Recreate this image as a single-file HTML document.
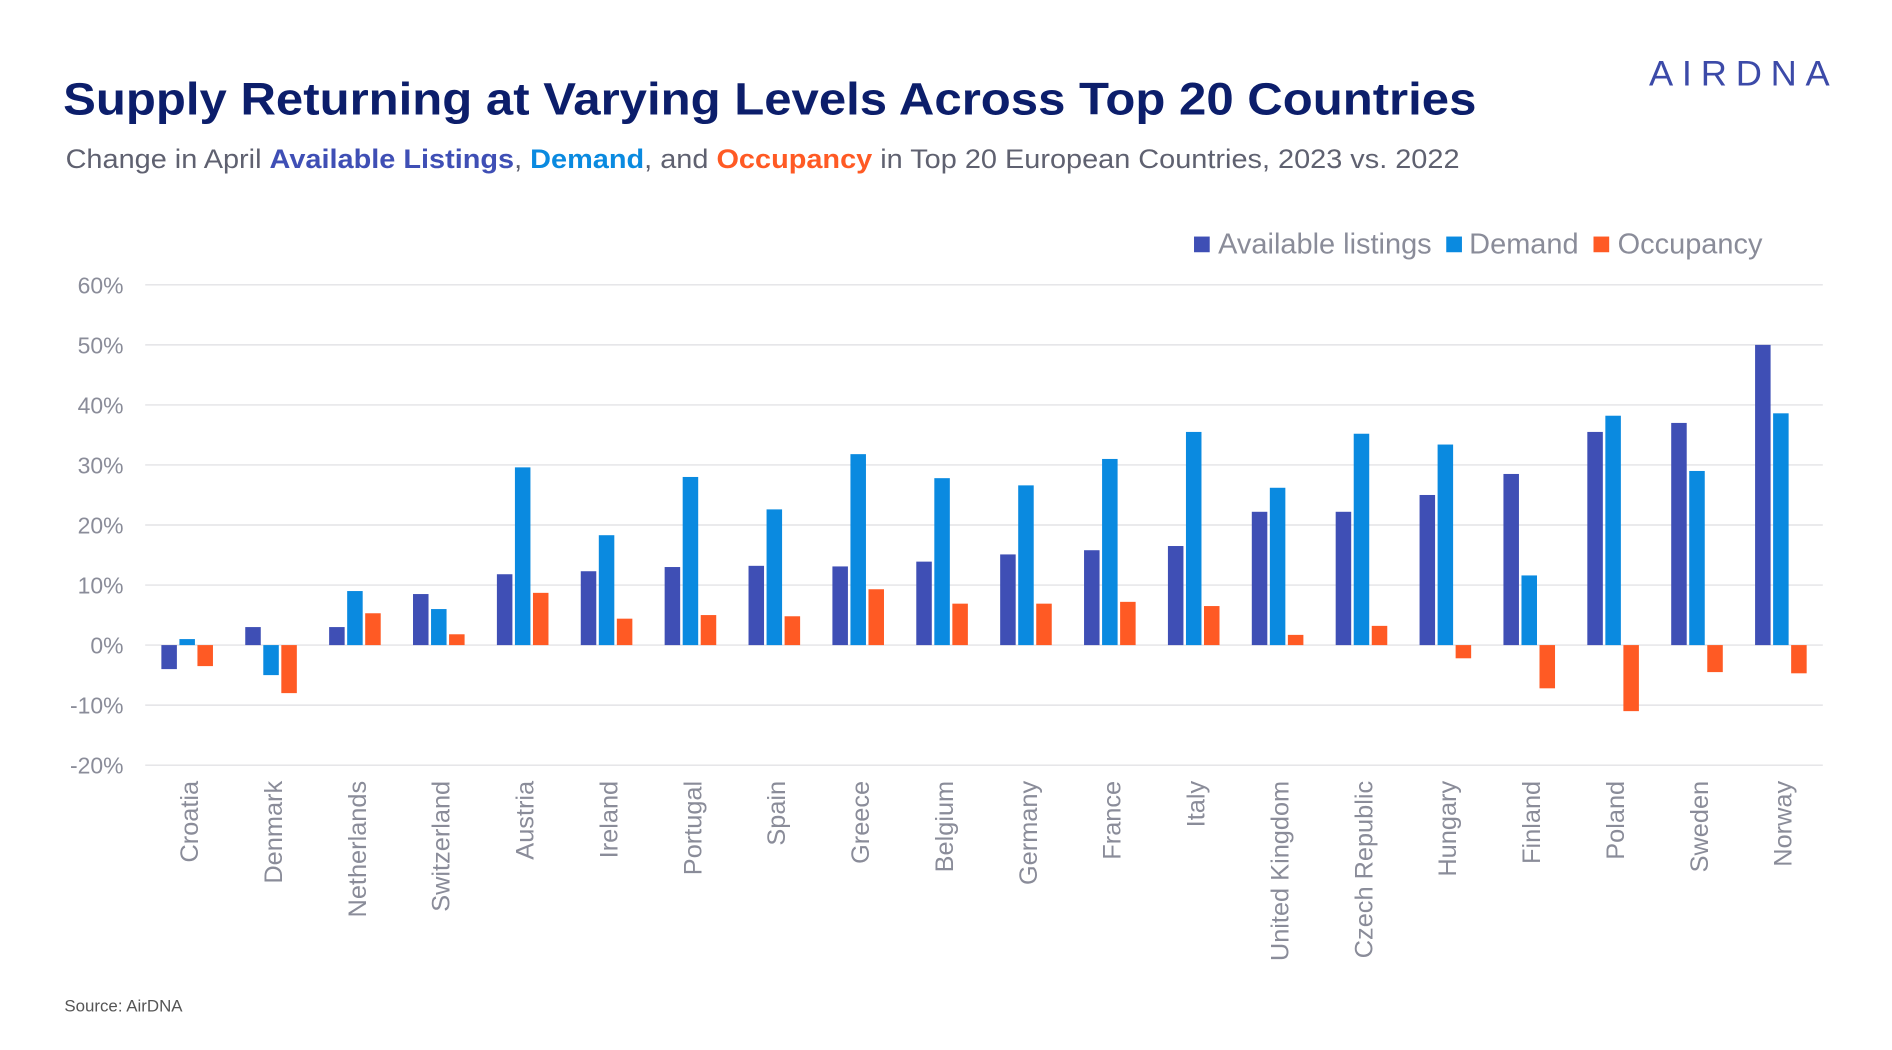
<!DOCTYPE html>
<html><head><meta charset="utf-8"><style>
html,body{margin:0;padding:0;background:#fff;}
svg{display:block;font-family:"Liberation Sans",sans-serif;}
</style></head><body>
<svg id="chart" width="1892" height="1050" viewBox="0 0 1567 870" xmlns="http://www.w3.org/2000/svg">
<text x="52" y="95" font-size="38" font-weight="bold" fill="#0c1e6b" textLength="1171" lengthAdjust="spacingAndGlyphs">Supply Returning at Varying Levels Across Top 20 Countries</text>
<text x="54" y="139" font-size="22" fill="#5f6170" textLength="1155" lengthAdjust="spacingAndGlyphs">Change in April <tspan font-weight="bold" fill="#3f4fb5">Available Listings</tspan>, <tspan font-weight="bold" fill="#0a8ae0">Demand</tspan>, and <tspan font-weight="bold" fill="#ff5a24">Occupancy</tspan> in Top 20 European Countries, 2023 vs. 2022</text>
<text x="1366" y="71" font-size="29" fill="#3c4aa8" letter-spacing="7" textLength="157" lengthAdjust="spacingAndGlyphs">AIRDNA</text>
<g>
<rect x="989" y="196" width="13" height="13" fill="#3f4fb5"/>
<text x="1009" y="210" font-size="24" fill="#8a8c99">Available listings</text>
<rect x="1198" y="196" width="13" height="13" fill="#0a8ae0"/>
<text x="1217" y="210" font-size="24" fill="#8a8c99">Demand</text>
<rect x="1320" y="196" width="13" height="13" fill="#ff5a24"/>
<text x="1340" y="210" font-size="24" fill="#8a8c99">Occupancy</text>
</g>
<g id="grid"></g><g id="bars"></g><g id="labels"></g>
<text x="53" y="838" font-size="14" fill="#555">Source: AirDNA</text>
</svg>
<script>
const categories=["Croatia","Denmark","Netherlands","Switzerland","Austria","Ireland","Portugal","Spain","Greece","Belgium","Germany","France","Italy","United Kingdom","Czech Republic","Hungary","Finland","Poland","Sweden","Norway"];
const availableListings=[-4,3,3,8.5,11.8,12.3,13,13.2,13.1,13.9,15.1,15.8,16.5,22.2,22.2,25,28.5,35.5,37,50];
const demand=[1,-5,9,6,29.6,18.3,28,22.6,31.8,27.8,26.6,31,35.5,26.2,35.2,33.4,11.6,38.2,29,38.6];
const occupancy=[-3.5,-8,5.3,1.8,8.7,4.4,5,4.8,9.3,6.9,6.9,7.2,6.5,1.7,3.2,-2.2,-7.2,-11,-4.5,-4.7];
const yTicks=[60,50,40,30,20,10,0,-10,-20];
const NS="http://www.w3.org/2000/svg";
const x0=120,x1=1510,yTop=236,yBot=634,vMax=60,vMin=-20;
const y=v=>yTop+(vMax-v)*(yBot-yTop)/(vMax-vMin);
const band=(x1-x0)/categories.length;
const xc=i=>x0+band*(i+0.5);
const mk=(t,a,p)=>{const e=document.createElementNS(NS,t);for(const k in a)e.setAttribute(k,a[k]);p.appendChild(e);return e;};
const grid=document.getElementById('grid'),bars=document.getElementById('bars'),labels=document.getElementById('labels');
yTicks.forEach(v=>{
 const l=mk('line',{x1:x0,x2:x1,y1:y(v),y2:y(v),stroke:'#e3e3e6','stroke-width':1.2},grid);
 
 
 const t=mk('text',{x:102,y:y(v)+7,'text-anchor':'end','font-size':19,fill:'#8a8c99'},grid);
 t.textContent=v+'%';
 
 
});
const series=[[availableListings,'#3f4fb5','available'],[demand,'#0a8ae0','demand'],[occupancy,'#ff5a24','occupancy']];
const bw=band*0.185,step=band*0.215;
categories.forEach((c,i)=>{
 series.forEach((s,j)=>{
  const v=s[0][i];const bx=xc(i)+(j-1)*step-bw/2;
  const r=mk('rect',{x:bx,y:Math.min(y(v),y(0)),width:bw,height:Math.abs(y(v)-y(0)),fill:s[1]},bars);
  
  
 });
 const t=mk('text',{x:0,y:0,'text-anchor':'end','font-size':21,fill:'#8a8c99',transform:'translate('+(xc(i)+9)+',647) rotate(-90)'},labels);
 t.textContent=c;
 
 
});
</script>
</body></html>
